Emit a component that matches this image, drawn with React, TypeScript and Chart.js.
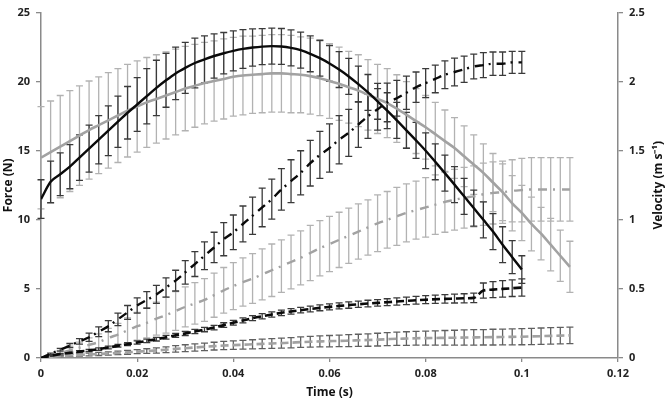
import React, { useEffect, useRef } from "react";
import { Chart, registerables } from "chart.js";

Chart.register(...registerables);

// Sample times (s)
const TIME = [0,0.002,0.004,0.006,0.008,0.01,0.012,0.014,0.016,0.018,0.02,0.022,0.024,0.026,0.028,0.03,0.032,0.034,0.036,0.038,0.04,0.042,0.044,0.046,0.048,0.05,0.052,0.054,0.056,0.058,0.06,0.062,0.064,0.066,0.068,0.07,0.072,0.074,0.076,0.078,0.08,0.082,0.084,0.086,0.088,0.09,0.092,0.094,0.096,0.098,0.1,0.102,0.104,0.106,0.108,0.11];

// Force (N), black condition (0 - 0.1 s)
const FORCE_BLACK = [11.5,12.75,13.3,13.85,14.5,15.15,15.8,16.45,17.1,17.75,18.35,18.95,19.55,20.1,20.6,21.0,21.35,21.62,21.86,22.06,22.23,22.37,22.47,22.54,22.57,22.55,22.45,22.28,22.02,21.7,21.32,20.88,20.38,19.82,19.22,18.58,17.9,17.2,16.48,15.75,15.0,14.2,13.38,12.55,11.7,10.85,10.0,9.15,8.2,7.3,6.4];
const FORCE_BLACK_SD = [1.4,1.5,1.55,1.6,1.65,1.7,1.75,1.8,1.85,1.9,1.95,2.0,2.0,1.95,1.9,1.85,1.8,1.7,1.6,1.5,1.45,1.4,1.35,1.3,1.3,1.3,1.3,1.3,1.3,1.3,1.3,1.3,1.3,1.3,1.3,1.3,1.3,1.3,1.3,1.3,1.3,1.3,1.3,1.3,1.3,1.3,1.3,1.3,1.3,1.2,1.0];

// Force (N), grey condition (0 - 0.11 s)
const FORCE_GREY = [14.5,14.9,15.3,15.7,16.1,16.5,16.85,17.2,17.55,17.9,18.2,18.5,18.75,19.0,19.25,19.5,19.7,19.9,20.05,20.2,20.35,20.45,20.5,20.55,20.6,20.6,20.55,20.5,20.4,20.25,20.05,19.85,19.6,19.35,19.05,18.75,18.45,18.05,17.6,17.15,16.7,16.2,15.7,15.2,14.6,14.0,13.4,12.7,12.0,11.2,10.5,9.7,9.0,8.2,7.4,6.6];
const FORCE_GREY_SD = [3.7,3.7,3.7,3.65,3.6,3.55,3.5,3.45,3.4,3.35,3.3,3.25,3.2,3.15,3.1,3.05,3.0,2.95,2.9,2.9,2.85,2.85,2.8,2.8,2.8,2.8,2.8,2.75,2.75,2.7,2.7,2.65,2.6,2.6,2.55,2.5,2.5,2.45,2.4,2.35,2.3,2.3,2.25,2.2,2.2,2.15,2.1,2.1,2.05,2.0,2.0,1.95,1.9,1.9,1.85,1.85];

// Velocity (m/s), black dash-dot
const VEL_BLACK = [0,0.03,0.06,0.09,0.12,0.15,0.19,0.23,0.28,0.33,0.38,0.42,0.46,0.51,0.56,0.62,0.68,0.74,0.80,0.86,0.91,0.97,1.03,1.09,1.15,1.22,1.28,1.34,1.41,1.47,1.52,1.58,1.63,1.69,1.75,1.80,1.85,1.88,1.92,1.96,1.99,2.02,2.05,2.07,2.09,2.11,2.12,2.13,2.13,2.14,2.14];
const VEL_BLACK_SD = [0,0.005,0.01,0.015,0.02,0.03,0.035,0.04,0.045,0.05,0.055,0.06,0.065,0.07,0.075,0.085,0.09,0.1,0.11,0.12,0.125,0.13,0.135,0.14,0.145,0.15,0.155,0.16,0.165,0.17,0.175,0.175,0.17,0.165,0.16,0.15,0.14,0.13,0.12,0.11,0.105,0.1,0.1,0.1,0.095,0.09,0.09,0.085,0.085,0.08,0.08];

// Velocity (m/s), grey dash-dot
const VEL_GREY = [0,0.015,0.035,0.055,0.075,0.095,0.115,0.145,0.17,0.2,0.23,0.255,0.285,0.31,0.34,0.37,0.395,0.42,0.455,0.49,0.52,0.55,0.575,0.605,0.635,0.665,0.695,0.725,0.76,0.795,0.825,0.855,0.885,0.915,0.945,0.975,1.0,1.025,1.05,1.07,1.09,1.11,1.13,1.145,1.16,1.17,1.185,1.195,1.2,1.21,1.215,1.22,1.22,1.22,1.22,1.22];
const VEL_GREY_SD = [0,0.01,0.02,0.03,0.04,0.05,0.06,0.07,0.08,0.09,0.1,0.11,0.12,0.13,0.14,0.145,0.15,0.155,0.16,0.165,0.17,0.175,0.18,0.185,0.19,0.19,0.195,0.195,0.2,0.2,0.2,0.2,0.2,0.2,0.2,0.205,0.205,0.21,0.21,0.21,0.215,0.215,0.22,0.22,0.22,0.22,0.225,0.225,0.225,0.225,0.23,0.23,0.23,0.23,0.23,0.23];

// Velocity (m/s), black dashed
const DASH_BLACK = [0,0.015,0.028,0.037,0.046,0.055,0.064,0.076,0.088,0.1,0.112,0.124,0.136,0.15,0.164,0.178,0.192,0.206,0.22,0.238,0.255,0.272,0.288,0.302,0.315,0.327,0.337,0.346,0.355,0.363,0.37,0.377,0.383,0.389,0.394,0.399,0.404,0.409,0.414,0.418,0.422,0.425,0.428,0.43,0.432,0.435,0.488,0.495,0.5,0.505,0.51];
const DASH_BLACK_SD = [0,0.003,0.005,0.006,0.007,0.008,0.009,0.01,0.01,0.011,0.012,0.012,0.013,0.014,0.014,0.015,0.015,0.016,0.016,0.017,0.017,0.018,0.018,0.019,0.019,0.02,0.02,0.02,0.021,0.021,0.022,0.022,0.023,0.023,0.024,0.024,0.025,0.026,0.027,0.028,0.029,0.03,0.031,0.032,0.033,0.034,0.055,0.058,0.06,0.06,0.062];

// Velocity (m/s), grey dashed
const DASH_GREY = [0,0.007,0.014,0.018,0.022,0.026,0.029,0.033,0.037,0.041,0.046,0.05,0.055,0.06,0.066,0.071,0.076,0.081,0.086,0.09,0.093,0.096,0.099,0.102,0.105,0.108,0.111,0.115,0.118,0.12,0.122,0.124,0.126,0.128,0.13,0.133,0.136,0.139,0.141,0.143,0.144,0.145,0.146,0.147,0.148,0.149,0.15,0.151,0.152,0.153,0.154,0.156,0.158,0.16,0.162,0.164];
const DASH_GREY_SD = [0,0.002,0.004,0.006,0.008,0.01,0.011,0.012,0.013,0.014,0.015,0.017,0.019,0.021,0.023,0.025,0.026,0.027,0.028,0.03,0.031,0.032,0.033,0.034,0.035,0.036,0.037,0.038,0.039,0.04,0.041,0.042,0.043,0.044,0.045,0.046,0.047,0.048,0.049,0.05,0.051,0.052,0.053,0.054,0.055,0.056,0.056,0.057,0.057,0.058,0.058,0.059,0.059,0.06,0.06,0.06];

const X_TITLE = "Time (s)";
const Y_TITLE = "Force (N)";
const Y1_TITLE = "Velocity (m s\u207B\u00B9)";

const BLACK = "#0a0a0a";
const BLACK_BAR = "#3a3a3a";
const GREY = "#a2a2a2";
const GREY_BAR = "#b2b2b2";
const DARK_GREY_BAR = "#606060";
const AXIS = "#8a8a8a";
const FONT = "'Open Sans', 'Liberation Sans', sans-serif";

const pts = (vals: number[]) => vals.map((v, i) => ({ x: TIME[i], y: v }));

const errorBarPlugin = {
  id: "errorBars",
  beforeDatasetsDraw(chart: any) {
    const ctx = chart.ctx;
    const xs = chart.scales.x;
    const dsets = chart.data.datasets;
    ctx.save();
    for (let d = dsets.length - 1; d >= 0; d--) {
      const ds = dsets[d];
      if (!ds.errors) continue;
      const ys = chart.scales[ds.yAxisID];
      ctx.strokeStyle = ds.errorColor;
      ctx.lineWidth = 1.3;
      ds.data.forEach((p: any, i: number) => {
        const sd = ds.errors[i];
        if (!sd) return;
        const x = xs.getPixelForValue(p.x);
        const yt = ys.getPixelForValue(p.y + sd);
        const yb = ys.getPixelForValue(p.y - sd);
        ctx.beginPath();
        ctx.moveTo(x, yt);
        ctx.lineTo(x, yb);
        ctx.moveTo(x - 3.5, yt);
        ctx.lineTo(x + 3.5, yt);
        ctx.moveTo(x - 3.5, yb);
        ctx.lineTo(x + 3.5, yb);
        ctx.stroke();
      });
    }
    ctx.restore();
  },
};

const titlePlugin = {
  id: "axisTitles",
  afterDraw(chart: any) {
    const ctx = chart.ctx;
    const a = chart.chartArea;
    const cy = (a.top + a.bottom) / 2;
    ctx.save();
    ctx.fillStyle = "#111";
    ctx.font = `bold 12px ${FONT}`;
    ctx.textAlign = "center";
    ctx.textBaseline = "middle";
    ctx.fillText(X_TITLE, (a.left + a.right) / 2, 393);
    ctx.save();
    ctx.translate(9, cy);
    ctx.rotate(-Math.PI / 2);
    ctx.fillText(Y_TITLE, 0, 0);
    ctx.restore();
    ctx.save();
    ctx.translate(659, cy);
    ctx.rotate(-Math.PI / 2);
    ctx.fillText(Y1_TITLE, 0, 0);
    ctx.restore();
    ctx.restore();
  },
};

const fmt = (v: number) => String(Math.round(v * 1000) / 1000);

export default function App() {
  const ref = useRef<HTMLCanvasElement | null>(null);
  useEffect(() => {
    if (!ref.current) return;
    const tick = { color: "#222", font: { family: FONT, size: 11, weight: "bold" as const } };
    const grid = { display: true, drawOnChartArea: false, drawTicks: true, tickLength: 5, color: AXIS, lineWidth: 1.3 };
    const border = { display: true, color: AXIS, width: 1.5 };
    const chart = new Chart(ref.current, {
      type: "line",
      data: {
        datasets: [
          { data: pts(FORCE_BLACK), yAxisID: "y", borderColor: BLACK, borderWidth: 2.4, errors: FORCE_BLACK_SD, errorColor: BLACK_BAR } as any,
          { data: pts(VEL_BLACK), yAxisID: "y1", borderColor: BLACK, borderWidth: 2.4, borderDash: [9, 5, 2, 6], errors: VEL_BLACK_SD, errorColor: BLACK_BAR } as any,
          { data: pts(DASH_BLACK), yAxisID: "y1", borderColor: BLACK, borderWidth: 2.6, borderDash: [8, 4], errors: DASH_BLACK_SD, errorColor: BLACK_BAR } as any,
          { data: pts(FORCE_GREY), yAxisID: "y", borderColor: GREY, borderWidth: 2.6, errors: FORCE_GREY_SD, errorColor: GREY_BAR } as any,
          { data: pts(VEL_GREY), yAxisID: "y1", borderColor: GREY, borderWidth: 2.4, borderDash: [9, 6, 2, 7], errors: VEL_GREY_SD, errorColor: GREY_BAR } as any,
          { data: pts(DASH_GREY), yAxisID: "y1", borderColor: GREY, borderWidth: 2.6, borderDash: [8, 4], errors: DASH_GREY_SD, errorColor: DARK_GREY_BAR } as any,
        ],
      },
      options: {
        animation: false,
        responsive: false,
        devicePixelRatio: 1,
        layout: { padding: { top: 8, left: 0, right: 0, bottom: 0 } },
        elements: { point: { radius: 0 }, line: { tension: 0.3, cubicInterpolationMode: "monotone", fill: false } },
        plugins: { legend: { display: false }, tooltip: { enabled: false } },
        scales: {
          x: {
            type: "linear", min: 0, max: 0.12,
            ticks: { ...tick, stepSize: 0.02, padding: 5, maxRotation: 0, callback: (v: any) => fmt(Number(v)) },
            grid: { ...grid, tickLength: 4 }, border,
            afterFit: (s: any) => { s.height = 46; },
          },
          y: {
            type: "linear", position: "left", min: 0, max: 25,
            ticks: { ...tick, stepSize: 5, padding: 6, callback: (v: any) => fmt(Number(v)) },
            grid, border,
            afterFit: (s: any) => { s.width = 41; },
          },
          y1: {
            type: "linear", position: "right", min: 0, max: 2.5,
            ticks: { ...tick, stepSize: 0.5, padding: 6, callback: (v: any) => fmt(Number(v)) },
            grid, border,
            afterFit: (s: any) => { s.width = 50; },
          },
        },
      } as any,
      plugins: [errorBarPlugin, titlePlugin],
    });
    return () => chart.destroy();
  }, []);
  return (
    <div style={{ position: "absolute", left: 0, top: 0, width: 668, height: 404, background: "#fff" }}>
      <canvas ref={ref} width={668} height={404} style={{ width: 668, height: 404, display: "block" }} />
    </div>
  );
}
